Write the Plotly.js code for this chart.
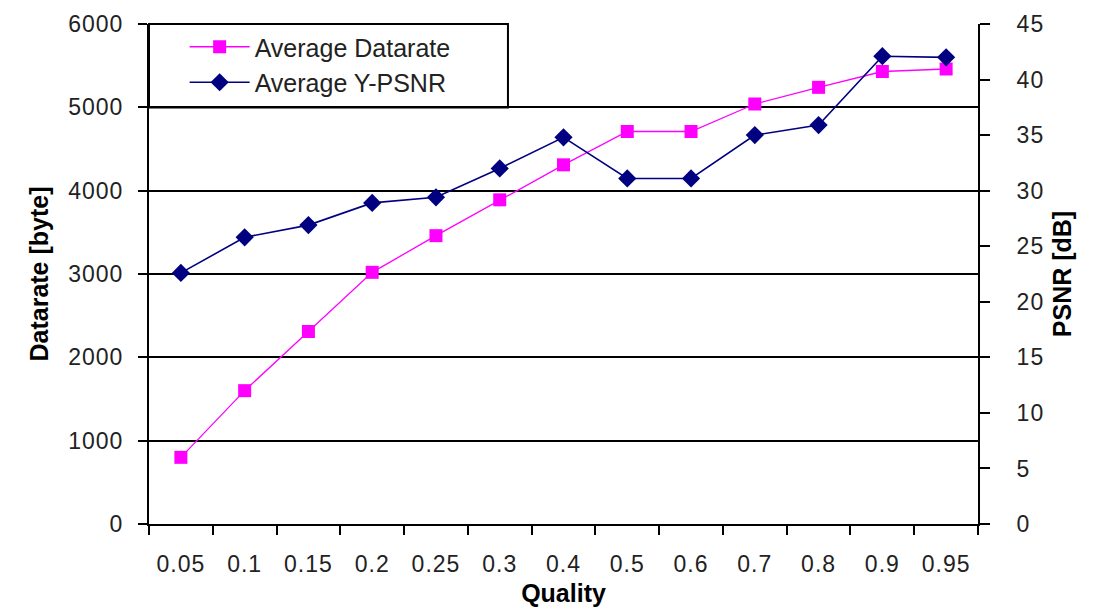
<!DOCTYPE html>
<html>
<head>
<meta charset="utf-8">
<script src="https://cdn.plot.ly/plotly-3.0.1.min.js"></script>
<style>
  html, body { margin: 0; padding: 0; background: #fff; }
  #chart { width: 1093px; height: 611px; }
  /* slightly airy lettering for the tick labels */
  #chart .xtick text, #chart .ytick text, #chart .y2tick text { letter-spacing: 1px; }
</style>
</head>
<body>
<div id="chart"></div>
<script>
// JPEG quality setting vs. average datarate and luminance PSNR
const quality = ['0.05', '0.1', '0.15', '0.2', '0.25', '0.3', '0.4', '0.5', '0.6', '0.7', '0.8', '0.9', '0.95'];
const datarate = [800, 1600, 2310, 3020, 3460, 3890, 4310, 4710, 4710, 5040, 5240, 5430, 5460];
const psnr = [22.6, 25.8, 26.9, 28.9, 29.4, 32.0, 34.8, 31.1, 31.1, 35.0, 35.9, 42.1, 42.0];

const leftTicks = [0, 1000, 2000, 3000, 4000, 5000, 6000];
const rightTicks = [0, 5, 10, 15, 20, 25, 30, 35, 40, 45];

const FONT = 'Liberation Sans, Arial, sans-serif';
const INK = '#222';

const traces = [
  {
    x: quality, y: datarate, name: 'Average Datarate',
    type: 'scatter', mode: 'lines+markers',
    line: { color: '#ff00ff', width: 1.3 },
    marker: { symbol: 'square', size: 13, color: '#ff00ff' },
    xaxis: 'x', yaxis: 'y'
  },
  {
    x: quality, y: psnr, name: 'Average Y-PSNR',
    type: 'scatter', mode: 'lines+markers',
    line: { color: '#000080', width: 1.6 },
    marker: { symbol: 'diamond', size: 14, color: '#000080' },
    xaxis: 'x', yaxis: 'y2'
  }
];

const catRange = [-0.5, quality.length - 0.5];

const layout = {
  width: 1093, height: 611,
  margin: { l: 149, r: 115, t: 24, b: 87 },
  paper_bgcolor: '#fff', plot_bgcolor: '#fff',
  font: { family: FONT, color: INK, size: 23 },
  showlegend: true,
  legend: {
    x: 0.043, y: 1.0, xanchor: 'left', yanchor: 'top',
    bgcolor: 'rgba(0,0,0,0)', borderwidth: 0,
    font: { family: FONT, size: 25, color: INK },
    itemwidth: 60, tracegroupgap: 0
  },
  xaxis: {
    type: 'category', categoryorder: 'array', categoryarray: quality,
    range: catRange, tickson: 'boundaries',
    ticks: 'outside', ticklen: 9, tickwidth: 2, tickcolor: '#000',
    showline: true, linecolor: '#000', linewidth: 2,
    showgrid: false, zeroline: false,
    tickfont: { family: FONT, size: 23, color: INK },
    ticklabelstandoff: 18,
    title: { text: '<b>Quality</b>', font: { family: FONT, size: 25, color: '#000' }, standoff: 9 }
  },
  // inward half of the crossing ticks on the quality axis
  xaxis2: {
    type: 'category', categoryorder: 'array', categoryarray: quality,
    range: catRange, tickson: 'boundaries', overlaying: 'x', anchor: 'y',
    ticks: 'inside', ticklen: 8, tickwidth: 2, tickcolor: '#000',
    showticklabels: false, showgrid: false, showline: false, zeroline: false
  },
  yaxis: {
    range: [0, 6000], tickvals: leftTicks,
    ticks: 'outside', ticklen: 9, tickwidth: 2, tickcolor: '#000',
    showline: true, linecolor: '#000', linewidth: 2,
    showgrid: true, gridcolor: '#000', gridwidth: 2, zeroline: false,
    tickfont: { family: FONT, size: 23, color: INK },
    ticklabelstandoff: 10,
    title: { text: '<b>Datarate [byte]</b>', font: { family: FONT, size: 25, color: '#000' }, standoff: 16 }
  },
  yaxis2: {
    range: [0, 45], tickvals: rightTicks, overlaying: 'y', side: 'right', anchor: 'x',
    ticks: 'outside', ticklen: 10, tickwidth: 2, tickcolor: '#000',
    showline: true, linecolor: '#000', linewidth: 2,
    showgrid: false, zeroline: false,
    tickfont: { family: FONT, size: 23, color: INK },
    ticklabelstandoff: 22,
    title: { text: '<b>PSNR [dB]</b>', font: { family: FONT, size: 25, color: '#000' }, standoff: 12 }
  },
  // inward half of the crossing ticks on the PSNR axis
  yaxis3: {
    range: [0, 45], tickvals: rightTicks, overlaying: 'y', side: 'right', anchor: 'x',
    ticks: 'inside', ticklen: 10, tickwidth: 2, tickcolor: '#000',
    showticklabels: false, showgrid: false, showline: false, zeroline: false
  },
  shapes: [
    // legend frame
    {
      type: 'rect', xref: 'paper', yref: 'paper',
      x0: 0, x1: 0.433, y0: 0.833, y1: 1,
      line: { color: '#000', width: 2 }, fillcolor: '#fff', layer: 'below'
    }
  ]
};

Plotly.newPlot('chart', traces, layout, { displayModeBar: false, staticPlot: true });
</script>
</body>
</html>
